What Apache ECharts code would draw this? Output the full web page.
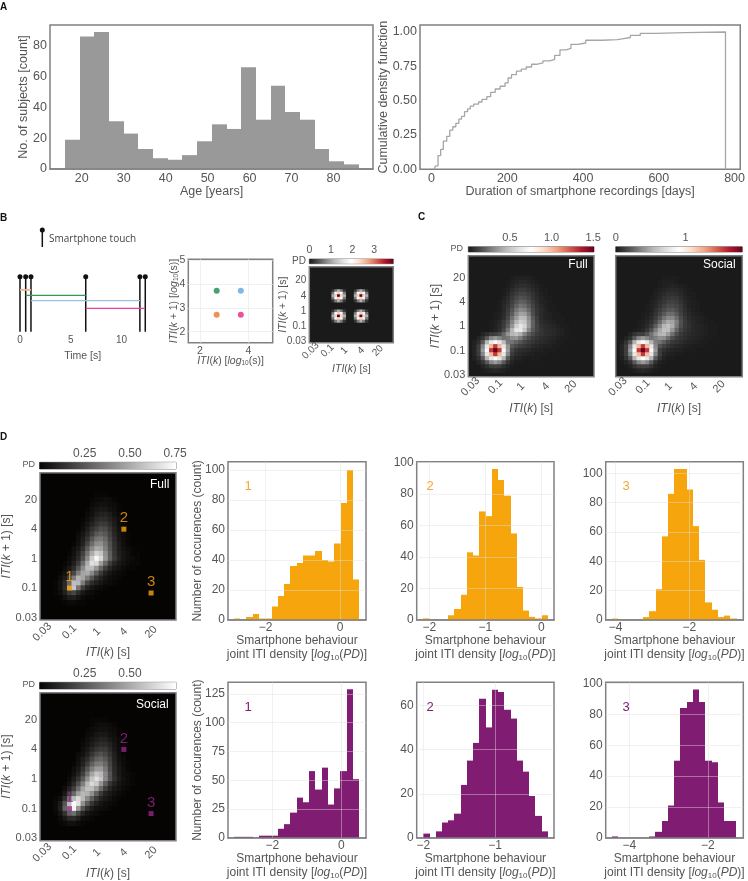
<!DOCTYPE html>
<html>
<head>
<meta charset="utf-8">
<style>html,body{margin:0;padding:0;background:#fff}#main{width:748px;height:881px}</style>
<script src="https://cdn.jsdelivr.net/npm/echarts@6/dist/echarts.min.js"></script>
</head>
<body>
<div id="main"></div>
<script>
// panel A
var ageStart = 16, ageStep = 3.5;
var ageCounts = [19,86,89,31,23,13,7,6,9,18,29,26,66,32,54,37,32,13,5,3];
var durationDays = [7,10,17,24,31,40,48,56,64,72,79,87,95,102,111,124,133,146,156,168,181,194,202,211,224,237,250,264,277,294,312,325,339,355,368,386,407,451,490,503,525,551,591,669,776,776];
var durationCdf = [0,.025,.10,.145,.205,.24,.285,.31,.335,.365,.385,.42,.44,.46,.475,.49,.51,.53,.56,.585,.605,.63,.665,.69,.715,.73,.745,.765,.775,.79,.80,.83,.87,.88,.91,.92,.94,.945,.95,.96,.975,.99,.995,1,1,0];

// panel B
var touchTimes = [0,.56,1.08,6.47,11.8,12.33];
var intervalStart = [0,1,2,3];
var intervalLevels = [.76,.66,.565,.425];
var intervalColors = ['#f6b48a','#2f9a60','#96c4e8','#e8409c'];
var itiX = [2.69,2.69,3.69,3.69];
var itiY = [3.715,2.71,3.715,2.71];
var itiColors = ['#1a8a4a','#e8762c','#5fa8dc','#e6277f'];
var miniBlobX = [10,18,10,18];
var miniBlobY = [10,10,18,18];
var miniBlobRows = [
  [.2,.7,1.1,.7,.2],
  [.7,1.9,2.4,1.9,.7],
  [1.1,2.4,3.89,2.4,1.1],
  [.7,1.9,2.4,1.9,.7],
  [.2,.7,1.1,.7,.2]
];

// heat maps: rows top to bottom, first row is y bin 25, first column is x bin 1, PD x 100
var binCount = 30;
var binTicks = [0,6,12,18,24];
var binLabels = ['0.03','0.1','1','4','20'];
var cFullRows = [
  [0],
  [0,0,0,0,0,0,0,0,0,1,2,2,2,2,1],
  [0,0,0,0,0,0,0,0,1,2,3,4,4,3,2,1],
  [0,0,0,0,0,0,0,0,1,3,5,6,6,5,3,2,1],
  [0,0,0,0,0,0,0,1,2,5,7,9,9,7,5,3,1,1],
  [0,0,0,0,0,0,0,1,3,7,10,12,12,10,7,4,2,1],
  [0,0,0,0,0,0,0,2,5,9,13,16,15,12,8,5,3,1,1],
  [0,0,0,0,0,0,1,3,6,11,16,20,19,15,10,6,3,2,1],
  [0,0,0,0,0,0,1,4,7,13,20,25,23,18,12,7,4,2,1,1],
  [0,0,0,0,0,0,1,4,9,16,25,31,29,22,14,8,5,3,1,1],
  [0,0,0,0,0,1,2,5,11,19,30,38,37,27,15,8,5,3,2,1,1],
  [0,0,0,0,0,1,2,6,13,24,36,46,45,32,18,10,5,3,2,1,1,1],
  [0,0,0,0,1,2,4,9,16,29,44,54,50,35,20,11,6,4,3,2,1,1],
  [0,0,0,0,1,2,5,10,19,34,54,64,56,36,20,12,7,5,4,3,2,1,1],
  [0,0,0,0,1,3,6,13,25,44,64,66,50,30,18,12,8,6,5,4,3,2,1],
  [0,0,3,6,10,11,14,22,34,44,48,42,29,20,14,10,8,6,5,4,3,2,1],
  [0,3,8,18,30,36,30,24,26,32,34,27,19,14,10,8,6,5,4,3,2,1,1],
  [2,6,18,44,64,76,64,46,26,25,21,17,13,10,8,6,5,4,3,2,1,1],
  [3,10,30,64,100,128,100,64,34,18,14,11,9,7,5,4,3,2,2,1,1],
  [3,11,36,76,128,150,128,76,36,13,8,6,5,4,3,2,2,1,1,1],
  [3,10,30,64,100,128,100,64,30,10,6,4,3,2,2,1,1,1],
  [2,6,18,44,64,76,64,44,18,6,3,2,1,1,1,1],
  [0,3,8,18,30,36,30,18,8,3,1,1],
  [0,0,3,6,10,11,10,6,3,1],
  [0,0,1,2,3,4,3,2,1]
];
var cSocialRows = [
  [0],
  [0,0,0,0,0,0,0,0,0,0,1,1,1,1],
  [0,0,0,0,0,0,0,0,0,1,2,2,2,1],
  [0,0,0,0,0,0,0,0,0,1,2,3,4,3,2,1],
  [0,0,0,0,0,0,0,0,1,3,4,5,6,5,4,2,1],
  [0,0,0,0,0,0,0,0,2,4,6,8,8,7,5,3,1,1],
  [0,0,0,0,0,0,0,1,3,5,8,10,11,10,7,4,2,1],
  [0,0,0,0,0,0,0,2,4,7,10,13,14,12,9,5,3,2,1],
  [0,0,0,0,0,0,1,3,5,9,13,17,17,15,11,6,3,2,1],
  [0,0,0,0,0,0,1,3,7,12,17,21,22,18,12,7,4,2,1],
  [0,0,0,0,0,1,2,4,9,15,22,28,28,22,14,8,5,3,2,1],
  [0,0,0,0,0,1,3,6,12,20,30,37,37,28,17,10,6,4,3,2,1],
  [0,0,0,0,1,2,4,8,16,27,40,49,47,34,19,11,7,5,3,2,1,1],
  [0,0,0,0,1,3,6,12,23,37,53,58,50,32,18,11,8,5,4,3,2,1,1],
  [0,0,0,1,2,5,10,19,33,48,58,56,42,26,15,10,7,5,4,3,2,1,1],
  [0,0,3,9,13,13,20,30,42,52,54,44,29,18,11,8,6,5,4,3,2,1,1],
  [0,3,8,22,36,43,36,30,34,40,38,28,18,12,9,7,5,4,3,2,1,1],
  [2,9,22,53,77,92,77,53,34,30,23,16,11,9,7,5,4,3,2,1,1],
  [4,13,36,77,120,154,120,77,38,20,14,10,7,5,4,3,2,1,1,1],
  [4,13,43,92,154,180,154,92,43,13,8,5,4,3,2,1,1,1],
  [4,13,36,77,120,154,120,77,36,13,5,3,2,1,1],
  [2,9,22,53,77,92,77,53,22,9,3,1,1],
  [0,3,8,22,36,43,36,22,8,3,1],
  [0,0,3,9,13,13,13,9,3,1],
  [0,0,1,2,4,5,4,2,1]
];
var dFullRows = [
  [0,0,0,0,0,0,0,0,0,0,0,1,1,1],
  [0,0,0,0,0,0,0,0,0,0,1,2,2,3,2,1],
  [0,0,0,0,0,0,0,0,0,0,2,3,4,4,3,2,1],
  [0,0,0,0,0,0,0,0,0,1,3,5,6,6,4,3,1],
  [0,0,0,0,0,0,0,0,0,2,4,7,9,9,7,4,2,1],
  [0,0,0,0,0,0,0,0,1,3,6,10,12,12,9,6,3,1],
  [0,0,0,0,0,0,0,0,2,5,9,13,16,16,12,7,3,1],
  [0,0,0,0,0,0,0,0,3,7,13,18,22,21,15,9,4,2],
  [0,0,0,0,0,0,0,2,5,10,17,25,28,25,18,10,5,3,1],
  [0,0,0,0,0,0,0,3,7,14,24,33,35,30,20,12,6,3,1],
  [0,0,0,0,0,0,1,4,9,19,31,41,42,34,23,13,7,3,1],
  [0,0,0,0,0,0,3,6,13,26,40,50,48,37,24,14,7,4,2,1],
  [0,0,0,0,0,1,4,9,18,33,50,62,58,42,27,15,8,5,3,1,1],
  [0,0,0,0,0,2,5,11,22,40,60,73,64,44,28,16,9,5,3,2,1],
  [0,0,0,0,1,3,8,16,31,50,66,64,46,30,17,10,6,4,2,1,1],
  [0,0,0,0,2,6,12,24,40,55,55,44,29,17,10,6,4,2,1,1],
  [0,0,0,1,4,10,20,36,48,50,40,27,16,9,5,3,2,1],
  [0,0,0,3,7,18,36,52,48,36,24,14,9,5,3,2,1],
  [0,0,1,4,11,30,56,54,36,20,12,8,5,3,2,1],
  [0,0,1,4,12,38,58,34,17,9,5,3,2,1],
  [0,0,1,3,8,16,20,12,6,3,2,1],
  [0,0,0,1,4,7,8,5,2,1,1],
  [0,0,0,0,1,2,2,1,1]
];
var dSocialRows = [
  [0],
  [0,0,0,0,0,0,0,0,0,0,1,1,1,1],
  [0,0,0,0,0,0,0,0,0,0,1,2,3,3,2,1],
  [0,0,0,0,0,0,0,0,0,1,2,3,4,4,3,2,1],
  [0,0,0,0,0,0,0,0,0,2,3,5,6,6,4,3,1],
  [0,0,0,0,0,0,0,0,1,3,5,7,9,9,6,4,2],
  [0,0,0,0,0,0,0,0,2,4,7,10,12,12,9,5,2,1],
  [0,0,0,0,0,0,0,0,3,6,10,14,16,16,11,6,3,1],
  [0,0,0,0,0,0,0,2,4,8,14,20,23,20,14,8,3,1],
  [0,0,0,0,0,0,0,3,7,12,20,27,29,25,17,9,4,2],
  [0,0,0,0,0,0,1,4,9,17,27,35,36,30,19,10,5,2,1],
  [0,0,0,0,0,0,3,6,13,24,36,45,45,35,21,11,6,3,1],
  [0,0,0,0,0,1,4,9,18,32,48,58,54,40,24,12,6,3,2,1],
  [0,0,0,0,0,2,7,14,26,42,58,66,58,40,24,13,7,4,2,1],
  [0,0,0,0,1,4,11,22,37,54,64,60,44,27,15,9,5,3,2,1],
  [0,0,0,0,3,9,18,32,48,57,56,46,30,17,10,6,4,2,1],
  [0,0,0,1,6,16,30,46,54,52,42,28,16,9,6,4,2,1],
  [0,0,1,3,13,32,54,64,54,40,27,16,9,6,4,2,1],
  [0,0,2,7,24,54,74,66,42,26,15,9,5,3,2,1],
  [0,0,2,8,28,62,72,44,24,13,7,4,3,2,1],
  [0,0,1,5,14,28,32,20,10,5,3,2,1],
  [0,0,0,2,6,11,12,8,3,2,1],
  [0,0,0,1,2,4,4,2,1]
];
var markBinX = [6,18,24];
var markBinY = [6,18,5];
var markNames = ['1','2','3'];

// panel D histograms
var full1Start = -2.85, full1Step = .1685;
var full1Counts = [1,0,2,4,1,1,9,16,24,36,38,43,43,46,40,39,51,78,100,27];
var full2Start = -2.107, full2Step = .1113;
var full2Counts = [1,0,0,0,3,7,16,43,41,69,66,96,89,79,55,21,6,2,1,3];
var full3Start = -4.1, full3Step = .1694;
var full3Counts = [1,0,0,0,0,2,6,21,57,86,103,103,89,64,41,12,7,2,3,1];
var social1Start = -3.1, social1Step = .1807;
var social1Counts = [1,1,1,0,2,2,2,8,12,22,35,31,58,42,61,29,43,58,129,51];
var social2Start = -2, social2Step = .0869;
var social2Counts = [2,0,3,7,8,11,24,35,43,63,50,67,66,58,54,35,30,19,10,3];
var social3Start = -4.443, social3Step = .1585;
var social3Counts = [1,0,0,0,0,0,1,4,11,21,50,84,88,96,88,50,49,23,11,11];

var FONT = '"Liberation Sans", Arial, sans-serif';
var TEXT = '#555';
var FRAME = '#808085';
var RDGY = ['#1a1a1a','#4d4d4d','#878787','#bababa','#e0e0e0','#ffffff','#fddbc7','#f4a582','#d6604d','#b2182b','#67001f'];
var GRAYS = ['#060403','#ffffff'];
var ORANGE = '#f7a50d';
var PURPLE = '#801c72';

var grids = [], xAxes = [], yAxes = [], series = [], visualMaps = [], texts = [];

function richFor(size){
  return {
    i:{fontStyle:'italic',fontSize:size,fontFamily:FONT,color:TEXT},
    s:{fontSize:size-4,fontFamily:FONT,color:TEXT,verticalAlign:'bottom'}
  };
}
function addGrid(left,top,right,bottom,bg){
  grids.push({left:left,top:top,width:right-left,height:bottom-top,show:true,borderColor:FRAME,borderWidth:1.5,backgroundColor:bg||'#fff'});
  return grids.length-1;
}
function valAxis(gi,min,max,ticks,o){
  o = o || {};
  var fs = o.fontSize || 12;
  return {
    type:'value',gridIndex:gi,min:min,max:max,position:o.position,z:5,
    name:o.name,nameLocation:'middle',nameGap:o.nameGap,nameMoveOverlap:false,
    nameTextStyle:{fontSize:o.nameSize||fs,color:TEXT,fontFamily:FONT,lineHeight:o.lineHeight,rich:richFor(o.nameSize||fs)},
    axisLine:{show:!!o.line,lineStyle:{color:FRAME,width:1.5}},
    axisTick:{show:false,customValues:ticks},
    axisLabel:{show:!o.noLabel,customValues:ticks,fontSize:fs,color:TEXT,fontFamily:FONT,margin:o.margin||3,formatter:o.format||function(v){return String(v).replace('-','\u2212');}},
    splitLine:{show:!!o.split,lineStyle:{color:o.split,width:.8}}
  };
}
function binAxis(gi,o){
  var cats = [];
  for(var i=0;i<binCount;i++){cats.push(i);}
  var label = {show:!o.noLabel,fontSize:o.fontSize||11,color:TEXT,fontFamily:FONT,margin:o.margin||3,
    interval:function(i){return binTicks.indexOf(i)>=0;},
    formatter:function(v){return binLabels[binTicks.indexOf(+v)];}};
  if(o.rotate){
    label.rotate = o.rotate;
    label.align = 'center';
    label.verticalAlign = 'middle';
  }
  return {
    type:'category',gridIndex:gi,data:cats,boundaryGap:true,z:5,
    name:o.name,nameLocation:'middle',nameGap:o.nameGap,nameMoveOverlap:false,
    nameTextStyle:{fontSize:o.nameSize||12,color:TEXT,fontFamily:FONT,rich:richFor(o.nameSize||12)},
    axisLine:{show:false},axisTick:{show:false},splitLine:{show:false},
    axisLabel:label
  };
}
function renderBin(params,api){
  var a = api.coord([api.value(0),0]);
  var b = api.coord([api.value(1),api.value(2)]);
  var x0 = Math.round(a[0]), x1 = Math.round(b[0]);
  return {type:'rect',shape:{x:x0,y:b[1],width:x1-x0,height:a[1]-b[1]},style:{fill:api.visual('color')}};
}
function histSeries(gi,start,step,counts,color){
  var data = [];
  for(var i=0;i<counts.length;i++){
    if(counts[i]>0){data.push([start+i*step,start+(i+1)*step,counts[i]]);}
  }
  series.push({type:'custom',xAxisIndex:gi,yAxisIndex:gi,data:data,renderItem:renderBin,encode:{x:[0,1],y:2},itemStyle:{color:color},z:2,silent:true});
}
function heatSeries(gi,cells,stops,vmax){
  series.push({type:'heatmap',xAxisIndex:gi,yAxisIndex:gi,data:cells,z:2,silent:true,progressive:0});
  visualMaps.push({type:'continuous',show:false,min:0,max:vmax,dimension:2,seriesIndex:series.length-1,inRange:{color:stops}});
}
function rowsToCells(rows){
  var cells = [];
  for(var r=0;r<rows.length;r++){
    for(var c=0;c<rows[r].length;c++){
      if(rows[r][c]>0){cells.push([c+1,25-r,rows[r][c]]);}
    }
  }
  return cells;
}
function colorBar(left,top,right,bottom,vmax,ticks,stops,fontSize,labelFmt){
  var gi = addGrid(left,top,right,bottom);
  grids[gi].borderWidth = 1;
  xAxes.push(valAxis(gi,0,vmax,ticks,{position:'top',fontSize:fontSize||11,margin:3,format:labelFmt||String}));
  yAxes.push({type:'value',gridIndex:gi,min:0,max:1,show:false});
  var colors = [];
  for(var i=0;i<stops.length;i++){colors.push({offset:i/(stops.length-1),color:stops[i]});}
  series.push({type:'custom',xAxisIndex:gi,yAxisIndex:gi,data:[[0,vmax]],z:2,silent:true,
    renderItem:function(params,api){
      var a = api.coord([api.value(0),0]), b = api.coord([api.value(1),1]);
      return {type:'rect',shape:{x:a[0],y:b[1],width:b[0]-a[0],height:a[1]-b[1]},
        style:{fill:new echarts.graphic.LinearGradient(0,0,1,0,colors)}};
    }});
}
function addText(x,y,text,size,color,align,weight,family){
  texts.push({type:'text',z:20,silent:true,style:{x:x,y:y,text:text,fill:color||TEXT,align:align||'center',verticalAlign:'middle',
    font:(weight?weight+' ':'')+size+'px '+(family||FONT)}});
}
function marks(gi,color){
  var data = [];
  for(var i=0;i<markBinX.length;i++){data.push([markBinX[i],markBinY[i],markNames[i]]);}
  series.push({type:'scatter',xAxisIndex:gi,yAxisIndex:gi,data:data,symbol:'rect',symbolSize:5,z:4,silent:true,itemStyle:{color:color},
    label:{show:true,position:'top',distance:1,fontSize:15,fontFamily:FONT,color:color,formatter:function(p){return p.data[2];}}});
}

var SPLIT = 'rgba(222,222,222,.55)';
var ITI_X = '{i|ITI}({i|k}) [s]';
var ITI_Y = '{i|ITI}({i|k} + 1) [s]';

// A
var g = addGrid(50,25,373,169);
xAxes.push(valAxis(g,12.45,89.4,[20,30,40,50,60,70,80],{name:'Age [years]',nameGap:16,fontSize:12.5,line:true}));
yAxes.push(valAxis(g,0,93.5,[0,20,40,60,80],{name:'No. of subjects [count]',nameGap:20,fontSize:12.5}));
histSeries(g,ageStart,ageStep,ageCounts,'#999999');

g = addGrid(420,25,743,169.3);
xAxes.push(valAxis(g,-30.6,815,[0,200,400,600,800],{name:'Duration of smartphone recordings [days]',nameGap:16,fontSize:12.5}));
yAxes.push(valAxis(g,0,1.051,[0,.25,.5,.75,1],{name:'Cumulative density function',nameGap:30,fontSize:12.5,format:function(v){return v.toFixed(2);}}));
series.push({type:'line',xAxisIndex:g,yAxisIndex:g,step:'end',showSymbol:false,silent:true,z:2,
  lineStyle:{color:'#a6a6a6',width:1.3},
  data:durationDays.map(function(d,i){return [d,durationCdf[i]];})});

// B timeline
g = grids.push({left:12,top:276.7,width:141.4,height:55,show:false})-1;
xAxes.push(valAxis(g,-.787,13.13,[0,5,10],{name:'Time [s]',nameGap:19,fontSize:10,nameSize:10.5,margin:4}));
yAxes.push({type:'value',gridIndex:g,min:0,max:1,show:false});
touchTimes.forEach(function(t){
  series.push({type:'line',xAxisIndex:g,yAxisIndex:g,silent:true,z:3,lineStyle:{color:'#111',width:1.5},itemStyle:{color:'#111'},
    data:[{value:[t,0],symbol:'none'},{value:[t,1],symbol:'circle',symbolSize:5}]});
});
intervalStart.forEach(function(s,i){
  series.push({type:'line',xAxisIndex:g,yAxisIndex:g,silent:true,z:4,symbol:'none',lineStyle:{color:intervalColors[i],width:i==0?1.6:1.1},
    data:[[touchTimes[s],intervalLevels[i]],[touchTimes[s+2],intervalLevels[i]]]});
});

// B scatter
g = addGrid(188.3,259.3,272.7,342.7);
xAxes.push(valAxis(g,1.515,5.01,[2,4],{name:'{i|ITI}({i|k}) [{i|log}{s|10}(s)]',nameGap:13,fontSize:10.5,margin:3,split:'#ececec'}));
yAxes.push(valAxis(g,1.54,5.03,[2,3,4,5],{name:'{i|ITI}({i|k} + 1) [{i|log}{s|10}(s)]',nameGap:9,fontSize:10.5,split:'#ececec'}));
series.push({type:'scatter',xAxisIndex:g,yAxisIndex:g,symbolSize:6,silent:true,z:3,
  data:itiX.map(function(x,i){return {value:[x,itiY[i]],itemStyle:{color:itiColors[i]}};})});

// B mini heat map
g = addGrid(309.3,266.7,393.3,342.7,'#1a1a1a');
xAxes.push(binAxis(g,{name:ITI_X,nameGap:21,nameSize:10.5,fontSize:10,rotate:45,margin:8}));
yAxes.push(binAxis(g,{name:ITI_Y,nameGap:21,nameSize:10.5,fontSize:10,margin:3}));
var miniCells = [];
miniBlobX.forEach(function(cx,b){
  miniBlobRows.forEach(function(row,r){
    row.forEach(function(v,c){miniCells.push([cx+c-2,miniBlobY[b]+2-r,v]);});
  });
});
heatSeries(g,miniCells,RDGY,3.89);
colorBar(309.3,259,393.3,263.7,3.89,[0,1,2,3],RDGY,10.5);
addText(306,261.7,'PD',10,TEXT,'right');

// C
g = addGrid(468.3,255.7,594,376.7,'#1a1a1a');
xAxes.push(binAxis(g,{name:ITI_X,nameGap:26,rotate:45,margin:10}));
yAxes.push(binAxis(g,{name:ITI_Y,nameGap:27}));
heatSeries(g,rowsToCells(cFullRows),RDGY,150);
colorBar(468.3,246.7,594,252,1.51,[.5,1,1.5],RDGY,11,function(v){return v.toFixed(1);});

g = addGrid(615.7,255.7,742.3,376.7,'#1a1a1a');
xAxes.push(binAxis(g,{name:ITI_X,nameGap:26,rotate:45,margin:10}));
yAxes.push(binAxis(g,{noLabel:true}));
heatSeries(g,rowsToCells(cSocialRows),RDGY,181);
colorBar(615.7,246.7,742.3,252,1.81,[0,1],RDGY,11);
addText(463,249,'PD',9,TEXT,'right');
addText(587.7,265,'Full',12,'#fff','right');
addText(735.7,265,'Social',12,'#fff','right');

// D heat maps
g = addGrid(39.5,472.7,176,620,'#060403');
xAxes.push(binAxis(g,{name:ITI_X,nameGap:27,rotate:45,margin:12}));
yAxes.push(binAxis(g,{name:ITI_Y,nameGap:27}));
heatSeries(g,rowsToCells(dFullRows),GRAYS,75);
marks(g,ORANGE);
colorBar(39.5,462.3,176,469,.755,[.25,.5,.75],GRAYS,12,function(v){return v.toFixed(2);});

g = addGrid(39.5,692.7,176,840.7,'#060403');
xAxes.push(binAxis(g,{name:ITI_X,nameGap:27,rotate:45,margin:12}));
yAxes.push(binAxis(g,{name:ITI_Y,nameGap:27}));
heatSeries(g,rowsToCells(dSocialRows),GRAYS,75);
marks(g,'#96248a');
colorBar(39.5,682.3,176,689,.755,[.25,.5],GRAYS,12,function(v){return v.toFixed(2);});
addText(35,465,'PD',9,TEXT,'right');
addText(35,685,'PD',9,TEXT,'right');
addText(169.3,485,'Full',12,'#fff','right');
addText(168.7,705,'Social',12,'#fff','right');

// D histograms
var HIST_X = 'Smartphone behaviour\njoint ITI density [{i|log}{s|10}({i|PD})]';
var HIST_Y = 'Number of occurences (count)';
function hist(left,top,right,bottom,xr,xt,yMax,yt,start,step,counts,color,yName,tag){
  var gi = addGrid(left,top,right,bottom);
  xAxes.push(valAxis(gi,xr[0],xr[1],xt,{name:HIST_X,nameGap:14,margin:2,lineHeight:14,split:SPLIT,line:true}));
  yAxes.push(valAxis(gi,0,yMax,yt,{name:yName,nameGap:24,split:SPLIT}));
  histSeries(gi,start,step,counts,color);
  addText(tag,top+25,yName?'1':(left>500?'3':'2'),13,color==ORANGE?'#f5a833':color);
}
hist(228,461.7,366,620,[-3.01,.7],[-2,0],105.5,[0,20,40,60,80,100],full1Start,full1Step,full1Counts,ORANGE,HIST_Y,248);
hist(416.7,461.7,554,620,[-2.225,.227],[-2,-1,0],100.6,[0,20,40,60,80,100],full2Start,full2Step,full2Counts,ORANGE,'',430);
hist(605.7,461.7,743.3,620,[-4.27,-.53],[-4,-2],107.9,[0,20,40,60,80,100],full3Start,full3Step,full3Counts,ORANGE,'',626);
hist(228,682.3,366,840.7,[-3.284,.716],[-2,0],135,[0,25,50,75,100,125],social1Start,social1Step,social1Counts,PURPLE,HIST_Y,248);
hist(416.7,682.3,554,840.7,[-2.092,-.177],[-2,-1],70.4,[0,20,40,60],social2Start,social2Step,social2Counts,PURPLE,'',430);
hist(605.7,682.3,743.3,840.7,[-4.6,-1.1],[-4,-2],100.7,[0,20,40,60,80,100],social3Start,social3Step,social3Counts,PURPLE,'',626);

// panel letters and the touch key
addText(0,7,'A',10,'#111','left','bold');
addText(0,218,'B',10,'#111','left','bold');
addText(418,217,'C',10,'#111','left','bold');
addText(0,437,'D',10,'#111','left','bold');
addText(49,239,'Smartphone touch',10,'#444','left','normal','"Open Sans"');
texts.push({type:'line',z:20,silent:true,shape:{x1:42.3,y1:231,x2:42.3,y2:247},style:{stroke:'#111',lineWidth:1.5}});
texts.push({type:'circle',z:20,silent:true,shape:{cx:42.3,cy:230,r:2.5},style:{fill:'#111'}});

var chart = echarts.init(document.getElementById('main'),null,{renderer:'canvas'});
chart.setOption({
  animation:false,
  backgroundColor:'#fff',
  textStyle:{fontFamily:FONT},
  grid:grids,
  xAxis:xAxes,
  yAxis:yAxes,
  visualMap:visualMaps,
  series:series,
  graphic:{elements:texts}
});
</script>
</body>
</html>
